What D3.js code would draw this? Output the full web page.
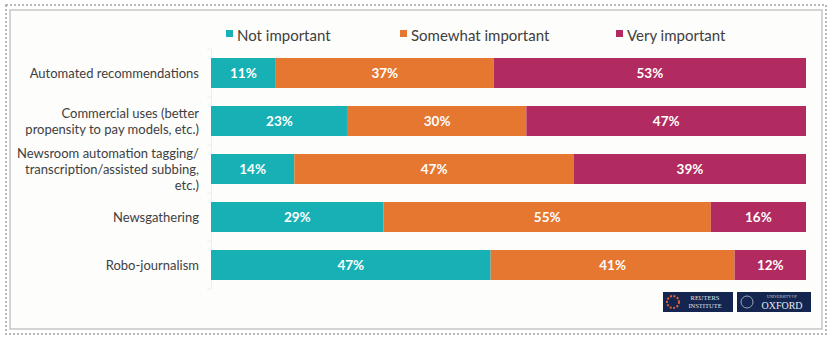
<!DOCTYPE html>
<html><head><meta charset="utf-8">
<script src="https://cdn.jsdelivr.net/npm/d3@7"></script>
<style>html,body{margin:0;padding:0;background:#fff;}svg{display:block;}</style>
</head><body>
<svg id="c" width="835" height="342"></svg>
<script>
const categories = [
  ["Automated recommendations"],
  ["Commercial uses (better", "propensity to pay models, etc.)"],
  ["Newsroom automation tagging/", "transcription/assisted subbing,", "etc.)"],
  ["Newsgathering"],
  ["Robo-journalism"]
];
const seriesNames = ["Not important", "Somewhat important", "Very important"];
const notImportant = [11, 23, 14, 29, 47];
const somewhatImportant = [37, 30, 47, 55, 41];
const veryImportant = [53, 47, 39, 16, 12];
const colors = ["#17b1b5", "#e67731", "#b22b60"];

const svg = d3.select("#c");
const font = "Lato, 'Open Sans', sans-serif";

// frame
svg.append("rect").attr("x",6).attr("y",5).attr("width",820).attr("height",329)
  .attr("fill","none").attr("stroke","#b8b8b8").attr("stroke-width",2).attr("stroke-dasharray","2,2");
svg.append("rect").attr("x",10).attr("y",10).attr("width",812).attr("height",319)
  .attr("fill","#fdfdfc").attr("stroke","#c6c6c6").attr("stroke-width",1.5);

const data = categories.map((c,i)=>({cat:i, vals:[notImportant[i], somewhatImportant[i], veryImportant[i]]}));
const total = d => d3.sum(d.vals);

const x = d3.scaleLinear().domain([0,100]).range([211,806]);
const y = d3.scaleBand().domain(d3.range(categories.length)).range([49,289]).paddingInner(0.375).paddingOuter(0.1875);

// axis
const ax = svg.append("g").attr("transform","translate(211,0)")
  .call(d3.axisLeft(y).tickSize(0).tickFormat(""));
ax.select(".domain").attr("stroke","#eeeeee");
const sep = d3.range(categories.length+1).map(i=>y.range()[0] + i*y.step());
svg.selectAll("line.sep").data(sep).join("line").attr("class","sep")
  .attr("x1",207).attr("x2",211).attr("y1",d=>d).attr("y2",d=>d).attr("stroke","#eeeeee");

// bars (normalised to 100%)
data.forEach(d=>{
  let acc = 0;
  const t = total(d);
  d.vals.forEach((v,k)=>{
    const x0 = x(acc*100/t), x1 = x((acc+v)*100/t);
    acc += v;
    svg.append("rect").attr("x",x0).attr("y",y(d.cat)).attr("width",x1-x0).attr("height",y.bandwidth())
      .attr("fill",colors[k]);
    svg.append("text").attr("x",(x0+x1)/2).attr("y",y(d.cat)+y.bandwidth()/2)
      .attr("dy","0.36em").attr("text-anchor","middle").attr("fill","#fff")
      .attr("font-family",font).attr("font-weight","bold").attr("font-size",13.5)
      .text(v+"%");
  });
});

// category labels
categories.forEach((lines,i)=>{
  const cy = y(i)+y.bandwidth()/2;
  const lh = 16;
  const t = svg.append("text").attr("text-anchor","end").attr("fill","#404040")
    .attr("font-family",font).attr("font-size",13);
  lines.forEach((l,j)=>{
    t.append("tspan").attr("x",199).attr("y",cy + (j-(lines.length-1)/2)*lh).attr("dy","0.35em").text(l);
  });
});

// legend
const legX = [226, 400, 616];
seriesNames.forEach((n,k)=>{
  svg.append("rect").attr("x",legX[k]).attr("y",30).attr("width",7).attr("height",7).attr("fill",colors[k]);
  svg.append("text").attr("x",legX[k]+11).attr("y",40.5).attr("fill","#404040")
    .attr("font-family",font).attr("font-size",15).text(n);
});

// logos
const lg = svg.append("g");
lg.append("rect").attr("x",663).attr("y",292).attr("width",70).attr("height",20).attr("fill","#14264f");
lg.append("circle").attr("cx",673).attr("cy",302).attr("r",6).attr("fill","none").attr("stroke","#e0603a").attr("stroke-width",2).attr("stroke-dasharray","2,1.5");
lg.append("text").attr("x",705).attr("y",300).attr("text-anchor","middle").attr("fill","#dfe3ea")
  .attr("font-family","'Liberation Serif', serif").attr("font-size",6.5).text("REUTERS");
lg.append("text").attr("x",705).attr("y",308).attr("text-anchor","middle").attr("fill","#dfe3ea")
  .attr("font-family","'Liberation Serif', serif").attr("font-size",6.5).text("INSTITUTE");
lg.append("rect").attr("x",737).attr("y",292).attr("width",74).attr("height",20).attr("fill","#14264f");
lg.append("circle").attr("cx",747).attr("cy",302).attr("r",6).attr("fill","none").attr("stroke","#9aa5b8").attr("stroke-width",1);
lg.append("text").attr("x",782).attr("y",298).attr("text-anchor","middle").attr("fill","#c8cdd8")
  .attr("font-family","'Liberation Serif', serif").attr("font-size",4).text("UNIVERSITY OF");
lg.append("text").attr("x",782).attr("y",308.5).attr("text-anchor","middle").attr("fill","#e6e9ef")
  .attr("font-family","'Liberation Serif', serif").attr("font-size",10).text("OXFORD");
</script>
</body></html>
